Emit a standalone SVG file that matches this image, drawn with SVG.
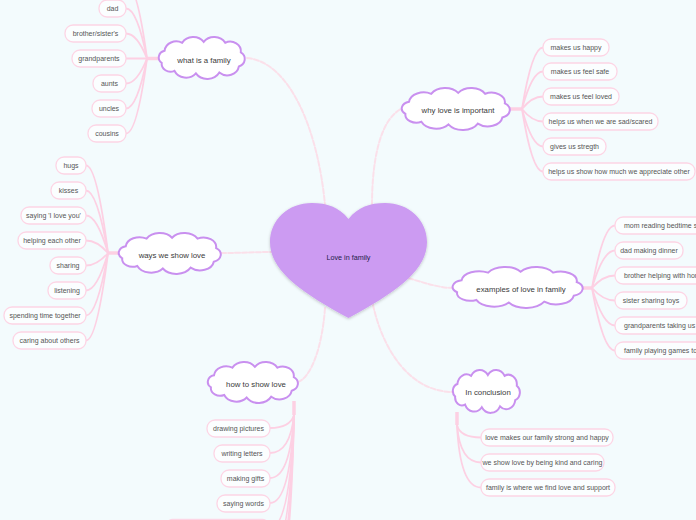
<svg xmlns="http://www.w3.org/2000/svg" xmlns:xlink="http://www.w3.org/1999/xlink" width="696" height="520" viewBox="0 0 696 520">
<style>
.bg{fill:#f3fbfd}
.main{fill:none;stroke:#fbe0ea;stroke-width:2;stroke-dasharray:5 2;stroke-linecap:round}
.sub{fill:none;stroke:#fdd0e3;stroke-width:1.8;stroke-linecap:round}
.stub{fill:none;stroke:#fdd0e3;stroke-width:3.5}
.cloud{fill:#ffffff;stroke:#c990ef;stroke-width:2}
.leaf rect{fill:#fbfeff;stroke:#fdd5e5;stroke-width:1.3}
.lt{font-family:"Liberation Sans",Arial,sans-serif;font-size:7px;fill:#555;text-anchor:middle;dominant-baseline:central}
.ls{text-anchor:start}
.ct{font-family:"Liberation Sans",Arial,sans-serif;font-size:7.8px;fill:#3a3a3a;text-anchor:middle;dominant-baseline:central}
.ht{font-family:"Liberation Sans",Arial,sans-serif;font-size:7.2px;fill:#231c4a;text-anchor:middle;dominant-baseline:central}
</style>
<defs>
<path id="cloudShape" vector-effect="non-scaling-stroke" d="M12,17 A12,12 0 0 1 30,8 A13,13 0 0 1 52,7 A13,13 0 0 1 74,8 A11,11 0 0 1 90,19 A9,9 0 0 1 88,35 A12,12 0 0 1 68,42 A14,14 0 0 1 44,43 A13,13 0 0 1 22,40 A9,9 0 0 1 9,31 A8,8 0 0 1 12,17 Z"/>
<filter id="shadow" x="-10%" y="-10%" width="120%" height="130%">
<feDropShadow dx="0" dy="1" stdDeviation="1.5" flood-color="#000" flood-opacity="0.22"/>
</filter>
</defs>
<rect class="bg" x="0" y="0" width="696" height="520"/>

<g id="connectors">
<path class="main" d="M247,58 C290,62 318,130 325,205"/>
<path class="main" d="M372,205 C372,160 380,118 403,108"/>
<path class="main" d="M221,253 C240,253 255,252 272,252"/>
<path class="main" d="M408,278 C425,283 440,288 453,288"/>
<path class="main" d="M325,308 C322,350 310,378 298,382"/>
<path class="main" d="M373,305 C383,350 410,392 453,392"/>

<path class="stub" d="M147,58.5 L161,58.5"/>
<path class="sub" d="M147,58.5 Q137,-16.5 126,-16.5"/>
<path class="sub" d="M147,58.5 Q137,8.5 126,8.5"/>
<path class="sub" d="M147,58.5 Q137,33.5 126,33.5"/>
<path class="sub" d="M147,58.5 L126,58.5"/>
<path class="sub" d="M147,58.5 Q137,83.5 126,83.5"/>
<path class="sub" d="M147,58.5 Q137,108.5 126,108.5"/>
<path class="sub" d="M147,58.5 Q137,133.5 126,133.5"/>

<path class="stub" d="M509,109 L522,109"/>
<path class="sub" d="M522,109 Q532,47.5 543,47.5"/>
<path class="sub" d="M522,109 Q532,71.5 543,71.5"/>
<path class="sub" d="M522,109 Q532,96.5 543,96.5"/>
<path class="sub" d="M522,109 Q532,121.5 543,121.5"/>
<path class="sub" d="M522,109 Q532,146.5 543,146.5"/>
<path class="sub" d="M522,109 Q532,171.5 543,171.5"/>

<path class="stub" d="M108,253 L121,253"/>
<path class="sub" d="M108,253 Q97,165.5 86,165.5"/>
<path class="sub" d="M108,253 Q97,190.5 86,190.5"/>
<path class="sub" d="M108,253 Q97,215.5 86,215.5"/>
<path class="sub" d="M108,253 Q97,240.5 86,240.5"/>
<path class="sub" d="M108,253 Q97,265.5 86,265.5"/>
<path class="sub" d="M108,253 Q97,290.5 86,290.5"/>
<path class="sub" d="M108,253 Q97,315.5 86,315.5"/>
<path class="sub" d="M108,253 Q97,340.5 86,340.5"/>

<path class="stub" d="M582,288 L592,288"/>
<path class="sub" d="M592,288 Q603,225.5 615,225.5"/>
<path class="sub" d="M592,288 Q603,250.5 615,250.5"/>
<path class="sub" d="M592,288 Q603,275.5 615,275.5"/>
<path class="sub" d="M592,288 Q603,300.5 615,300.5"/>
<path class="sub" d="M592,288 Q603,325.5 615,325.5"/>
<path class="sub" d="M592,288 Q603,350.5 615,350.5"/>

<path class="stub" d="M294,401 L294,415"/>
<path class="sub" d="M294,415 Q290,428 270,428"/>
<path class="sub" d="M294,415 Q290,453 270,453"/>
<path class="sub" d="M294,415 Q290,478 270,478"/>
<path class="sub" d="M294,415 Q290,503 270,503"/>
<path class="sub" d="M294,415 Q290,528 270,528"/>
<path class="sub" d="M294,415 Q290,553 270,553"/>
<path class="sub" d="M294,415 Q290,578 270,578"/>
<path class="sub" d="M294,415 Q290,603 270,603"/>

<path class="stub" d="M457,412 L457,425"/>
<path class="sub" d="M457,425 Q460,437.5 481,437.5"/>
<path class="sub" d="M457,425 Q460,462.5 481,462.5"/>
<path class="sub" d="M457,425 Q460,487.5 481,487.5"/>
</g>

<g id="center">
<path filter="url(#shadow)" fill="#cc9bf2" d="M348.5,219 C339,207 327,203 312,203 C288,203 270,220 270,242 C270,270 300,292 348.5,318 C397,292 427,270 427,242 C427,220 409,203 385,203 C370,203 358,207 348.5,219 Z"/>
<text class="ht" x="348.5" y="257">Love in family</text>
</g>

<g id="what-is-a-family">
<use href="#cloudShape" class="cloud" transform="translate(152.9,35.8) scale(0.977,0.875)"/>
<text class="ct" x="204" y="60">what is a family</text>
</g>
<g id="why-love-is-important">
<use href="#cloudShape" class="cloud" transform="translate(394.4,86.8) scale(1.227,0.875)"/>
<text class="ct" x="458" y="110">why love is important</text>
</g>
<g id="ways-we-show-love">
<use href="#cloudShape" class="cloud" transform="translate(111.8,231.8) scale(1.159,0.854)"/>
<text class="ct" x="172" y="255">ways we show love</text>
</g>
<g id="examples-of-love">
<use href="#cloudShape" class="cloud" transform="translate(443.8,265.8) scale(1.477,0.854)"/>
<text class="ct" x="521" y="289">examples of love in family</text>
</g>
<g id="how-to-show-love">
<use href="#cloudShape" class="cloud" transform="translate(201.7,360.8) scale(1.023,0.854)"/>
<text class="ct" x="256" y="384">how to show love</text>
</g>
<g id="in-conclusion">
<use href="#cloudShape" class="cloud" transform="translate(448.3,368.7) scale(0.761,0.896)"/>
<text class="ct" x="488" y="392">In conclusion</text>
</g>

<g id="leaf-dad" class="leaf"><rect x="99" y="0" width="27" height="17" rx="8"/><text class="lt" x="112.5" y="8.5">dad</text></g>
<g id="leaf-brother" class="leaf"><rect x="65" y="25" width="61" height="17" rx="8"/><text class="lt" x="95.5" y="33.5">brother/sister's</text></g>
<g id="leaf-grandparents" class="leaf"><rect x="72" y="50" width="54" height="17" rx="8"/><text class="lt" x="99" y="58.5">grandparents</text></g>
<g id="leaf-aunts" class="leaf"><rect x="93" y="75" width="33" height="17" rx="8"/><text class="lt" x="109.5" y="83.5">aunts</text></g>
<g id="leaf-uncles" class="leaf"><rect x="92" y="100" width="34" height="17" rx="8"/><text class="lt" x="109" y="108.5">uncles</text></g>
<g id="leaf-cousins" class="leaf"><rect x="88" y="125" width="38" height="17" rx="8"/><text class="lt" x="107" y="133.5">cousins</text></g>

<g id="leaf-happy" class="leaf"><rect x="543" y="39" width="66" height="17" rx="8"/><text class="lt" x="576" y="47.5">makes us happy</text></g>
<g id="leaf-safe" class="leaf"><rect x="543" y="63" width="74" height="17" rx="8"/><text class="lt" x="580" y="71.5">makes us feel safe</text></g>
<g id="leaf-loved" class="leaf"><rect x="543" y="88" width="76" height="17" rx="8"/><text class="lt" x="581" y="96.5">makes us feel loved</text></g>
<g id="leaf-sad" class="leaf"><rect x="543" y="113" width="115" height="17" rx="8"/><text class="lt" x="600.5" y="121.5">helps us when we are sad/scared</text></g>
<g id="leaf-strength" class="leaf"><rect x="543" y="138" width="63" height="17" rx="8"/><text class="lt" x="574.5" y="146.5">gives us stregth</text></g>
<g id="leaf-appreciate" class="leaf"><rect x="543" y="163" width="152" height="17" rx="8"/><text class="lt" x="619" y="171.5">helps us show how much we appreciate other</text></g>

<g id="leaf-hugs" class="leaf"><rect x="56" y="157" width="30" height="17" rx="8"/><text class="lt" x="71" y="165.5">hugs</text></g>
<g id="leaf-kisses" class="leaf"><rect x="51" y="182" width="35" height="17" rx="8"/><text class="lt" x="68.5" y="190.5">kisses</text></g>
<g id="leaf-saying" class="leaf"><rect x="21" y="207" width="65" height="17" rx="8"/><text class="lt" x="53.5" y="215.5">saying 'I love you'</text></g>
<g id="leaf-helping" class="leaf"><rect x="18" y="232" width="68" height="17" rx="8"/><text class="lt" x="52" y="240.5">helping each other</text></g>
<g id="leaf-sharing" class="leaf"><rect x="50" y="257" width="36" height="17" rx="8"/><text class="lt" x="68" y="265.5">sharing</text></g>
<g id="leaf-listening" class="leaf"><rect x="48" y="282" width="38" height="17" rx="8"/><text class="lt" x="67" y="290.5">listening</text></g>
<g id="leaf-spending" class="leaf"><rect x="4" y="307" width="82" height="17" rx="8"/><text class="lt" x="45" y="315.5">spending time together</text></g>
<g id="leaf-caring" class="leaf"><rect x="13" y="332" width="73" height="17" rx="8"/><text class="lt" x="49.5" y="340.5">caring about others</text></g>

<g id="leaf-mom" class="leaf"><rect x="615" y="217" width="110" height="17" rx="8"/><text class="lt ls" x="624" y="225.5">mom reading bedtime stories</text></g>
<g id="leaf-dinner" class="leaf"><rect x="615" y="242" width="68" height="17" rx="8"/><text class="lt" x="649" y="250.5">dad making dinner</text></g>
<g id="leaf-brother-help" class="leaf"><rect x="615" y="267" width="118" height="17" rx="8"/><text class="lt ls" x="624" y="275.5">brother helping with homework</text></g>
<g id="leaf-sister" class="leaf"><rect x="615" y="292" width="72" height="17" rx="8"/><text class="lt" x="651" y="300.5">sister sharing toys</text></g>
<g id="leaf-grandparents-taking" class="leaf"><rect x="615" y="317" width="130" height="17" rx="8"/><text class="lt ls" x="624" y="325.5">grandparents taking us to the park</text></g>
<g id="leaf-family-games" class="leaf"><rect x="615" y="342" width="118" height="17" rx="8"/><text class="lt ls" x="624" y="350.5">family playing games together</text></g>

<g id="leaf-drawing" class="leaf"><rect x="207" y="420" width="63" height="17" rx="8"/><text class="lt" x="238.5" y="428.5">drawing pictures</text></g>
<g id="leaf-writing" class="leaf"><rect x="214" y="445" width="56" height="17" rx="8"/><text class="lt" x="242" y="453.5">writing letters</text></g>
<g id="leaf-gifts" class="leaf"><rect x="221" y="470" width="49" height="17" rx="8"/><text class="lt" x="245.5" y="478.5">making gifts</text></g>
<g id="leaf-words" class="leaf"><rect x="217" y="495" width="53" height="17" rx="8"/><text class="lt" x="243.5" y="503.5">saying words</text></g>
<g id="leaf-hidden" class="leaf"><rect x="165" y="519.5" width="105" height="17" rx="8"/></g>

<g id="leaf-strong" class="leaf"><rect x="481" y="429" width="132" height="17" rx="8"/><text class="lt" x="547" y="437.5">love makes our family strong and happy</text></g>
<g id="leaf-kind" class="leaf"><rect x="481" y="454" width="123" height="17" rx="8"/><text class="lt" x="542.5" y="462.5">we show love by being kind and caring</text></g>
<g id="leaf-support" class="leaf"><rect x="481" y="479" width="134" height="17" rx="8"/><text class="lt" x="548" y="487.5">family is where we find love and support</text></g>
</svg>
